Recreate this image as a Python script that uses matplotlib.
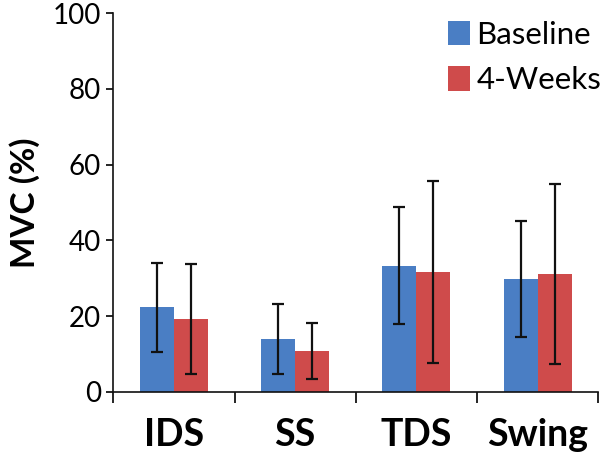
import numpy as np
import matplotlib.pyplot as plt

# values
categories = ["IDS", "SS", "TDS", "Swing"]
baseline_mean = [22.3, 13.9, 33.3, 29.8]
baseline_sd = [11.7, 9.2, 15.4, 15.4]
weeks4_mean = [19.2, 10.8, 31.6, 31.1]
weeks4_sd = [14.5, 7.3, 24.0, 23.8]
series_names = ["Baseline", "4-Weeks"]
yticks = [0, 20, 40, 60, 80, 100]

plt.rcParams['font.family'] = ['Lato', 'DejaVu Sans']

fig = plt.figure(figsize=(6, 4.53), dpi=100)
ax = fig.add_axes([0.189, 0.135, 0.808, 0.836])

x = np.arange(len(categories))
w = 0.28
err_kw = dict(ecolor='#111111', elinewidth=1.6, capsize=4, capthick=1.6)
ax.bar(x - w / 2, baseline_mean, w, yerr=baseline_sd, color='#4a7ec4',
       label=series_names[0], error_kw=err_kw)
ax.bar(x + w / 2, weeks4_mean, w, yerr=weeks4_sd, color='#cf4b4b',
       label=series_names[1], error_kw=err_kw)

ax.set_xlim(-0.5, len(categories) - 0.5)
ax.set_ylim(0, 100)
ax.set_yticks(yticks)
ax.tick_params(axis='y', labelsize=20, length=5, width=1.2, pad=4)

# category labels at centres, tick marks at boundaries (Excel style)
ax.set_xticks(np.arange(-0.5, len(categories), 1.0))
ax.set_xticklabels([])
ax.set_xticks(x, minor=True)
ax.set_xticklabels(categories, minor=True, fontsize=27, fontweight='bold')
ax.tick_params(axis='x', which='major', length=8, width=1.2)
ax.tick_params(axis='x', which='minor', length=0, pad=19)

ax.set_ylabel('MVC (%)', fontsize=24, fontweight='bold', labelpad=9)

for side in ['top', 'right']:
    ax.spines[side].set_visible(False)
for side in ['left', 'bottom']:
    ax.spines[side].set_linewidth(1.2)
    ax.spines[side].set_color('#111111')

ax.legend(loc='upper right', bbox_to_anchor=(1.045, 1.03), frameon=False,
          fontsize=22.5, handlelength=0.72, handleheight=0.85,
          handletextpad=0.2, labelspacing=0.55, borderpad=0.1)

fig.savefig('out.png', dpi=100)
